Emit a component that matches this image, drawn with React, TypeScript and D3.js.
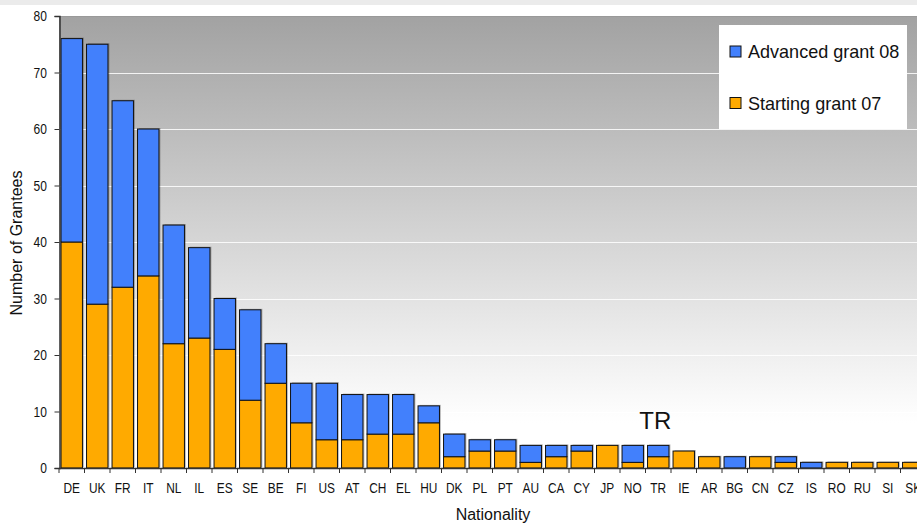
import * as React from "react";
import * as d3 from "d3";

const nations = ["DE", "UK", "FR", "IT", "NL", "IL", "ES", "SE", "BE", "FI", "US", "AT", "CH", "EL", "HU", "DK", "PL", "PT", "AU", "CA", "CY", "JP", "NO", "TR", "IE", "AR", "BG", "CN", "CZ", "IS", "RO", "RU", "SI", "SK"];
const startingGrant07 = [40, 29, 32, 34, 22, 23, 21, 12, 15, 8, 5, 5, 6, 6, 8, 2, 3, 3, 1, 2, 3, 4, 1, 2, 3, 2, 0, 2, 1, 0, 1, 1, 1, 1];
const advancedGrant08 = [36, 46, 33, 26, 21, 16, 9, 16, 7, 7, 10, 8, 7, 7, 3, 4, 2, 2, 3, 2, 1, 0, 3, 2, 0, 0, 2, 0, 1, 1, 0, 0, 0, 0];
const yTicks = [0, 10, 20, 30, 40, 50, 60, 70, 80];

const seriesNames = ["Starting grant 07", "Advanced grant 08"];
const seriesColors = ["#ffaa00", "#4280fc"];

const W = 917;
const H = 527;
const margin = { left: 59, top: 16, right: -9, bottom: 59 };
const font = "Arial, 'Liberation Sans', sans-serif";

export default function App() {
    const ref = React.useRef<SVGSVGElement>(null);

    React.useEffect(() => {
        const svg = d3.select(ref.current);
        svg.selectAll("*").remove();

        const x0 = margin.left, x1 = W - margin.right;
        const y0 = H - margin.bottom, y1 = margin.top;

        const x = d3.scaleBand().domain(nations).range([x0, x1]).paddingInner(0.16).paddingOuter(0.08);
        const y = d3.scaleLinear().domain([0, 80]).range([y0, y1]);

        const defs = svg.append("defs");
        const grad = defs.append("linearGradient").attr("id", "bg").attr("x1", 0).attr("y1", 0).attr("x2", 0).attr("y2", 1);
        grad.append("stop").attr("offset", 0).attr("stop-color", "#a2a2a2");
        grad.append("stop").attr("offset", 0.9).attr("stop-color", "#ffffff");
        grad.append("stop").attr("offset", 1).attr("stop-color", "#ffffff");

        svg.append("rect").attr("x", 0).attr("y", 0).attr("width", W).attr("height", 5).attr("fill", "#ebebeb");

        svg.append("rect")
            .attr("x", x0).attr("y", y1)
            .attr("width", W - x0).attr("height", y0 - y1)
            .attr("fill", "url(#bg)");

        svg.append("line").attr("x1", x0).attr("x2", W).attr("y1", y1 + 0.5).attr("y2", y1 + 0.5)
            .attr("stroke", "#999");

        svg.append("g").selectAll("line")
            .data(yTicks.filter(t => t > 0 && t < 80))
            .enter().append("line")
            .attr("x1", x0).attr("x2", W)
            .attr("y1", d => Math.round(y(d)) + 0.5).attr("y2", d => Math.round(y(d)) + 0.5)
            .attr("stroke", "#ffffff").attr("stroke-opacity", 0.85);

        const rows = nations.map((n, i) => ({ n, s: startingGrant07[i], a: advancedGrant08[i] }));

        // shadows
        svg.append("g").selectAll("rect")
            .data(rows)
            .enter().append("rect")
            .attr("x", d => x(d.n)! + 1.5)
            .attr("y", d => y(d.s + d.a) - 1)
            .attr("width", x.bandwidth())
            .attr("height", d => y(0) - y(d.s + d.a))
            .attr("fill", "#000").attr("fill-opacity", 0.25);

        const stack = d3.stack<any>().keys(["s", "a"])(rows);
        svg.append("g").selectAll("g")
            .data(stack)
            .enter().append("g")
            .attr("fill", (d, i) => seriesColors[i])
            .selectAll("rect")
            .data(d => d.filter(p => p[1] - p[0] > 0))
            .enter().append("rect")
            .attr("x", (d: any) => x(d.data.n)!)
            .attr("y", d => y(d[1]))
            .attr("width", x.bandwidth())
            .attr("height", d => y(d[0]) - y(d[1]))
            .attr("stroke", "#111").attr("stroke-width", 1);

        // axes
        const axisColor = "#333";
        const gy = svg.append("g").attr("transform", `translate(${x0 + 0.5},0)`)
            .call(d3.axisLeft(y).tickValues(yTicks).tickSize(5).tickFormat(() => ""));
        gy.select(".domain").attr("stroke", axisColor).attr("stroke-width", 1.5);
        gy.selectAll(".tick line").attr("stroke", axisColor);
        svg.append("g").selectAll("text")
            .data(yTicks)
            .enter().append("text")
            .attr("transform", d => `translate(${x0 - 12},${y(d) + 5}) scale(0.83,1)`)
            .attr("text-anchor", "end")
            .attr("font-family", font).attr("font-size", 14.5).attr("fill", "#111")
            .text(d => d);

        const boundaries = nations.map(n => x(n)! - x.step() * x.paddingInner() / 2);
        const gx = svg.append("g");
        gx.append("line").attr("x1", x0).attr("x2", W).attr("y1", y0 + 0.5).attr("y2", y0 + 0.5)
            .attr("stroke", axisColor).attr("stroke-width", 1.5);
        gx.selectAll("line.tk")
            .data(boundaries)
            .enter().append("line")
            .attr("class", "tk")
            .attr("x1", d => d).attr("x2", d => d)
            .attr("y1", y0).attr("y2", y0 + 5)
            .attr("stroke", axisColor);
        gx.selectAll("text")
            .data(nations)
            .enter().append("text")
            .attr("transform", d => `translate(${x(d)! + x.bandwidth() / 2},${y0 + 25}) scale(0.85,1)`)
            .attr("text-anchor", "middle")
            .attr("font-family", font)
            .attr("font-size", 14)
            .attr("fill", "#111")
            .text(d => d);

        svg.append("text")
            .attr("x", 493).attr("y", 520)
            .attr("text-anchor", "middle").attr("font-family", font).attr("font-size", 16).attr("fill", "#111")
            .text("Nationality");
        svg.append("text")
            .attr("transform", `translate(21.5,243) rotate(-90)`)
            .attr("text-anchor", "middle").attr("font-family", font).attr("font-size", 16).attr("fill", "#111")
            .text("Number of Grantees");

        svg.append("text")
            .attr("x", x("TR")! + x.bandwidth() / 2 - 3).attr("y", 429)
            .attr("text-anchor", "middle").attr("font-family", font).attr("font-size", 24).attr("fill", "#111")
            .text("TR");

        // legend
        const lg = svg.append("g");
        lg.append("rect").attr("x", 719).attr("y", 25).attr("width", 188).attr("height", 104).attr("fill", "#fff");
        const legendItems = [{ name: seriesNames[1], color: seriesColors[1] }, { name: seriesNames[0], color: seriesColors[0] }];
        const li = lg.selectAll("g")
            .data(legendItems)
            .enter().append("g")
            .attr("transform", (d, i) => `translate(730,${46 + i * 51.5})`);
        li.append("rect").attr("width", 11).attr("height", 11).attr("fill", d => d.color)
            .attr("stroke", "#111").attr("stroke-width", 1);
        li.append("text").attr("transform", "translate(18,12) scale(0.95,1)")
            .attr("font-family", font).attr("font-size", 19).attr("fill", "#111")
            .text(d => d.name);
    }, []);

    return (
        <div style={{ position: "absolute", left: 0, top: 0 }}>
            <svg ref={ref} width={W} height={H} style={{ display: "block" }}></svg>
        </div>
    );
}
